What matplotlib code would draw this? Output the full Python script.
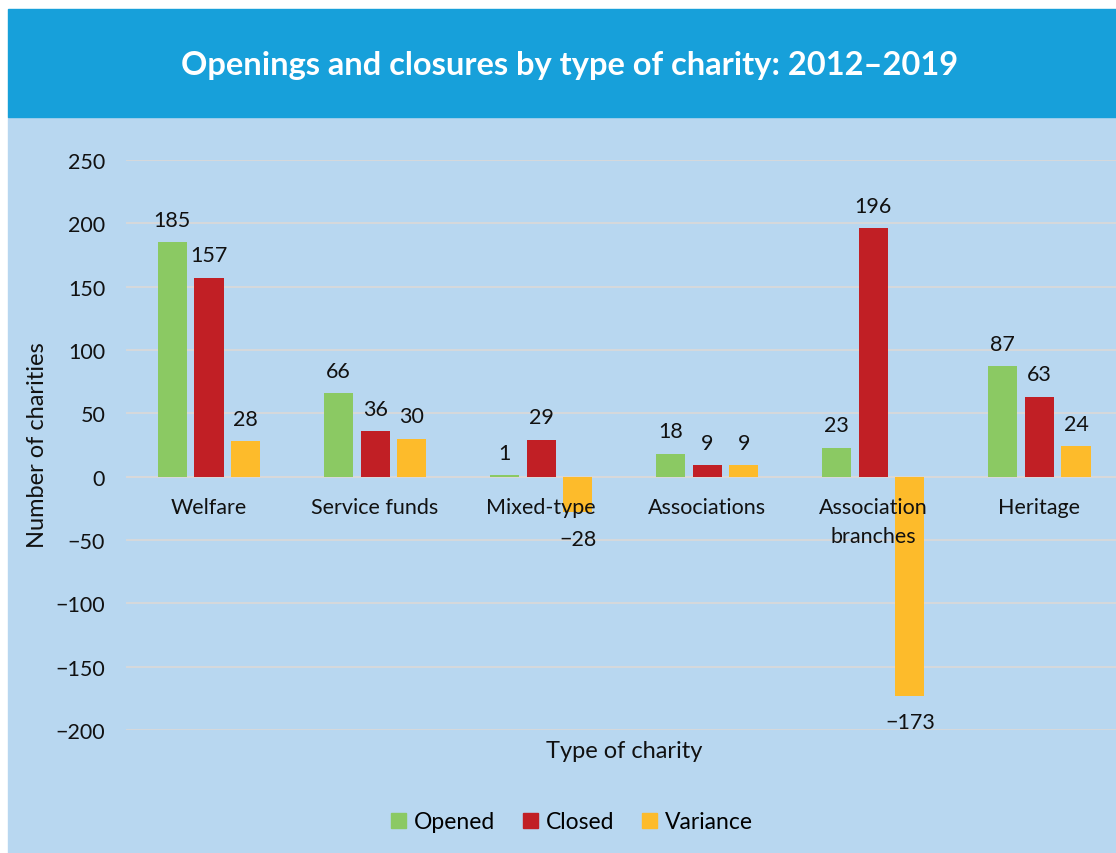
import numpy as np
import matplotlib
matplotlib.use("Agg")
import matplotlib.pyplot as plt
from matplotlib.patches import Rectangle, Patch

# Data
categories = ["Welfare", "Service funds", "Mixed-type", "Associations",
              "Association\nbranches", "Heritage"]
opened = [185, 66, 1, 18, 23, 87]
closed = [157, 36, 29, 9, 196, 63]
variance = [28, 30, -28, 9, -173, 24]
series_names = ["Opened", "Closed", "Variance"]

colors = ["#8BC963", "#C11F25", "#FDBB2B"]
header_col = "#17A0DA"
bg_col = "#B8D7F0"
grid_col = "#D9D9D9"
txt_col = "#111111"

plt.rcParams['font.family'] = ['Lato', 'DejaVu Sans']
fs = 15.5

W, H = 1116, 854
fig = plt.figure(figsize=(W / 100, H / 100), dpi=100, facecolor="white")

# background panels (header band + light blue body)
fig.patches.append(Rectangle((8 / W, 0), 1 - 8 / W, 1 - 118 / H,
                             transform=fig.transFigure, color=bg_col, zorder=-2))
fig.patches.append(Rectangle((8 / W, 1 - 118 / H), 1 - 8 / W, (118 - 10) / H,
                             transform=fig.transFigure, color=header_col, zorder=-2))
fig.text(570 / W, 1 - 66 / H, "Openings and closures by type of charity: 2012\u20132019",
         color="white", fontsize=23.5, fontweight="bold", ha="center", va="center")

left, right = 126, 1122.3
top, bottom = 161, 731
ax = fig.add_axes([left / W, 1 - bottom / H, (right - left) / W, (bottom - top) / H])
ax.set_facecolor("none")

x = np.arange(len(categories))
bw = 0.175
step = 0.221
for k, vals in enumerate([opened, closed, variance]):
    bars = ax.bar(x + (k - 1) * step, vals, width=bw, color=colors[k], zorder=1)
    for rect, v in zip(bars, vals):
        cx = rect.get_x() + rect.get_width() / 2
        if v >= 0:
            ax.annotate(str(v), (cx, v), xytext=(0, 9), textcoords="offset points",
                        ha="center", va="bottom", fontsize=fs, color=txt_col)
        else:
            ax.annotate(str(v).replace("-", "\u2212"), (cx, v), xytext=(0, -12),
                        textcoords="offset points", ha="center", va="top",
                        fontsize=fs, color=txt_col)

ax.set_xlim(-0.5, len(categories) - 0.5)
ax.set_ylim(-200, 250)
ax.set_yticks(np.arange(-200, 251, 50))
ax.yaxis.grid(True, color=grid_col, linewidth=1.3)
ax.set_axisbelow(True)
for s in ["top", "right", "left", "bottom"]:
    ax.spines[s].set_visible(False)
ax.axhline(0, color=grid_col, linewidth=1.3, zorder=0.6)

# category labels sit just under the zero line, on top of the bars
ax.set_xticks([])
for xi, name in zip(x, categories):
    ax.annotate(name, (xi, 0), xytext=(0, -15), textcoords="offset points",
                ha="center", va="top", fontsize=fs, color=txt_col,
                linespacing=1.55, zorder=5)
ax.tick_params(axis="y", length=0, pad=15, labelsize=fs, labelcolor=txt_col)

fig.text(38 / W, 1 - 445 / H, "Number of charities", rotation=90,
         fontsize=17, ha="center", va="center", color=txt_col)
fig.text(624 / W, 1 - 752 / H, "Type of charity",
         fontsize=17, ha="center", va="center", color=txt_col)

handles = [Patch(color=c) for c in colors]
fig.legend(handles, series_names, loc="center", bbox_to_anchor=(572 / W, 1 - 823 / H),
           ncol=3, frameon=False, fontsize=16.5, handlelength=0.65, handleheight=0.65,
           handletextpad=0.35, columnspacing=1.2)

fig.savefig("out.png", dpi=100, facecolor=fig.get_facecolor())
